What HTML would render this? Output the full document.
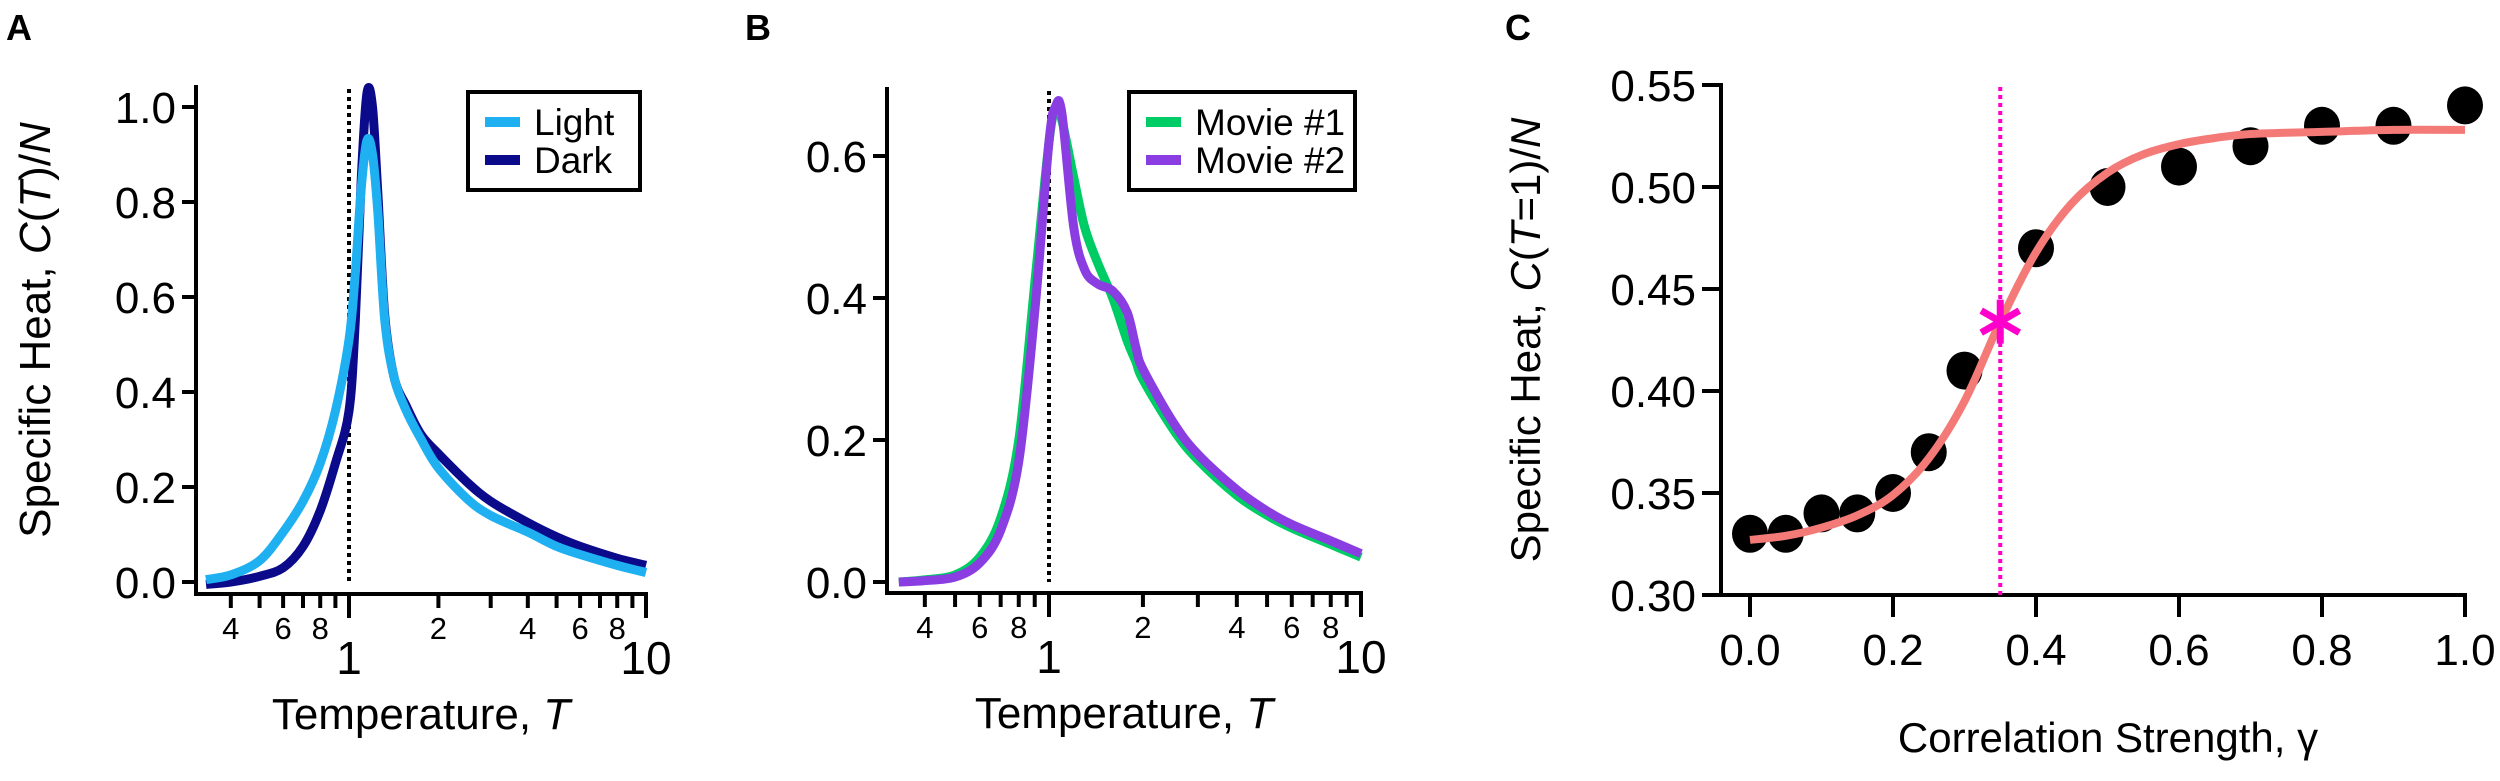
<!DOCTYPE html>
<html><head><meta charset="utf-8"><style>
html,body{margin:0;padding:0;background:#fff;}
svg{display:block;font-family:"Liberation Sans",Arial,sans-serif;}
</style></head><body>
<svg id="fig" width="2500" height="781" viewBox="0 0 2500 781" xmlns="http://www.w3.org/2000/svg">
<text x="6" y="40" font-size="36" font-weight="bold">A</text>
<text x="745" y="40" font-size="36" font-weight="bold">B</text>
<text x="1505" y="40" font-size="36" font-weight="bold">C</text>
<g id="pa"></g>
<g id="pb"></g>
<g id="pc"></g>
</svg>
<script>
// Panel A data
const aT = [0.33,0.4,0.5,0.6,0.7,0.8,0.9,1.0,1.05,1.1,1.15,1.2,1.25,1.32,1.42,1.56,1.75,2,2.5,3,4,5,6,8,10];
const aLight = [0.005,0.015,0.045,0.105,0.17,0.25,0.36,0.51,0.65,0.83,0.93,0.9,0.78,0.55,0.43,0.36,0.3,0.24,0.175,0.14,0.105,0.075,0.058,0.035,0.02];
const aDark = [-0.005,0.0,0.012,0.03,0.075,0.15,0.25,0.36,0.55,0.85,1.03,1.0,0.82,0.56,0.43,0.37,0.31,0.27,0.21,0.17,0.125,0.095,0.075,0.05,0.035];
// Panel B data
const bT = [0.33,0.4,0.5,0.6,0.7,0.8,0.9,1.0,1.05,1.1,1.2,1.3,1.43,1.6,1.78,1.9,2,2.5,3,4,5,6,8,10];
const bMovie1 = [0.0,0.003,0.01,0.035,0.09,0.2,0.42,0.62,0.665,0.65,0.57,0.5,0.45,0.4,0.34,0.31,0.285,0.215,0.172,0.122,0.094,0.076,0.053,0.035];
const bMovie2 = [0.0,0.002,0.007,0.027,0.073,0.17,0.38,0.62,0.67,0.66,0.5,0.44,0.42,0.41,0.38,0.33,0.3,0.225,0.18,0.13,0.1,0.081,0.058,0.04];
// Panel C data
const cGamma = [0,0.05,0.1,0.15,0.2,0.25,0.3,0.4,0.5,0.6,0.7,0.8,0.9,1.0];
const cHeat = [0.33,0.33,0.34,0.34,0.35,0.37,0.41,0.47,0.50,0.51,0.52,0.53,0.53,0.54];
const fitGamma = [0,0.05,0.1,0.15,0.2,0.25,0.3,0.35,0.4,0.45,0.5,0.55,0.6,0.65,0.7,0.8,0.9,1.0];
const fitHeat = [0.327,0.329,0.333,0.339,0.349,0.367,0.395,0.434,0.468,0.492,0.507,0.516,0.521,0.524,0.526,0.527,0.528,0.528];
const cStar = [0.35,0.434];
const aYTicks = ["0.0","0.2","0.4","0.6","0.8","1.0"];
const bYTicks = ["0.0","0.2","0.4","0.6"];
const cYTicks = ["0.30","0.35","0.40","0.45","0.50","0.55"];
const cXTicks = ["0.0","0.2","0.4","0.6","0.8","1.0"];

const NS="http://www.w3.org/2000/svg";
function el(parent,tag,attrs,text){const e=document.createElementNS(NS,tag);for(const k in attrs)e.setAttribute(k,attrs[k]);if(text!==undefined)e.textContent=text;parent.appendChild(e);return e;}
function smoothPath(pts){let d="M"+pts[0][0].toFixed(1)+","+pts[0][1].toFixed(1);for(let i=0;i<pts.length-1;i++){const p0=pts[i-1]||pts[i],p1=pts[i],p2=pts[i+1],p3=pts[i+2]||p2;const c1=[p1[0]+(p2[0]-p0[0])/6,p1[1]+(p2[1]-p0[1])/6],c2=[p2[0]-(p3[0]-p1[0])/6,p2[1]-(p3[1]-p1[1])/6];d+=" C"+c1[0].toFixed(1)+","+c1[1].toFixed(1)+" "+c2[0].toFixed(1)+","+c2[1].toFixed(1)+" "+p2[0].toFixed(1)+","+p2[1].toFixed(1);}return d;}

function logPanel(g,cfg){
  const X=t=>cfg.x1+Math.log10(t)*cfg.dec;
  const Y=v=>cfg.y0-v*cfg.unit;
  let e;
  e=el(g,"line",{x1:cfg.ax,y1:cfg.top,x2:cfg.ax,y2:cfg.axY+2,stroke:"#000","stroke-width":4});
  
  
  e=el(g,"line",{x1:cfg.ax-2,y1:cfg.axY,x2:X(10)+2,y2:cfg.axY,stroke:"#000","stroke-width":4});
  
  
  cfg.yt.forEach(s=>{const v=parseFloat(s),y=Y(v);
    e=el(g,"line",{x1:cfg.ax-14,y1:y,x2:cfg.ax,y2:y,stroke:"#000","stroke-width":4});
    
    
    e=el(g,"text",{x:cfg.ax-20,y:y+16,"font-size":44,"text-anchor":"end"},s);
    
    });
  for(let t=0.4;t<=10.001;){const major=Math.abs(t-1)<1e-6||Math.abs(t-10)<1e-6;const x=X(t);
    e=el(g,"line",{x1:x,y1:cfg.axY,x2:x,y2:cfg.axY+(major?24:14),stroke:"#000","stroke-width":4});
    
    
    const lab=Math.round(t<1?t*10:t);
    if(major){e=el(g,"text",{x:x,y:cfg.axY+80,"font-size":46,"text-anchor":"middle"},String(lab));}
    else if([2,4,6,8].includes(lab)){e=el(g,"text",{x:x,y:cfg.axY+45,"font-size":31,"text-anchor":"middle"},String(lab));}
    else e=null;
    if(e){
    }
    t=t<1?Math.round((t+0.1)*10)/10:Math.round(t+1);}
  e=el(g,"line",{x1:X(1),y1:cfg.top+4,x2:X(1),y2:cfg.y0,stroke:"#000","stroke-width":4,"stroke-dasharray":"4,4"});
  
  
  cfg.drawOrder.forEach(k=>{const s=cfg.series[k];const pts=cfg.T.map((t,i)=>[X(t),Y(s.v[i])]);
    e=el(g,"path",{d:smoothPath(pts),fill:"none",stroke:s.c,"stroke-width":9,"stroke-linejoin":"round","stroke-linecap":"butt"});
    
    });
  e=el(g,"text",{x:(cfg.ax+X(10))/2,y:cfg.axY+135,"font-size":44,"text-anchor":"middle"});
  
  
  e.innerHTML='Temperature, <tspan font-style="italic">T</tspan>';
  const lg=el(g,"g",{});
  
  
  el(lg,"rect",{x:cfg.lg[0],y:cfg.lg[1],width:cfg.lg[2],height:cfg.lg[3],fill:"#fff",stroke:"#000","stroke-width":4});
  cfg.series.forEach((s,i)=>{const y=cfg.lg[1]+30+i*38;
    e=el(lg,"line",{x1:cfg.lg[0]+17,y1:y,x2:cfg.lg[0]+52,y2:y,stroke:s.c,"stroke-width":10});
    
    
    e=el(lg,"text",{x:cfg.lg[0]+66,y:y+13,"font-size":37},s.label);
    
    });
  return {X,Y};
}
logPanel(document.getElementById("pa"),{ax:196,x1:349,dec:297,y0:582,unit:475,axY:594,top:85,T:aT,yt:aYTicks,drawOrder:[1,0],
  series:[{v:aLight,c:"#1eb0f0",label:"Light",name:"light-curve"},{v:aDark,c:"#0a0a8a",label:"Dark",name:"dark-curve"}],lg:[468,92,172,98]});
logPanel(document.getElementById("pb"),{ax:887,x1:1049,dec:312,y0:582,unit:710,axY:593,top:87,T:bT,yt:bYTicks,drawOrder:[0,1],
  series:[{v:bMovie1,c:"#00cc66",label:"Movie #1",name:"movie1-curve"},{v:bMovie2,c:"#8a3ee2",label:"Movie #2",name:"movie2-curve"}],lg:[1129,92,226,98]});
(function(){const t=el(document.getElementById("pa"),"text",{x:0,y:0,"font-size":44,"text-anchor":"middle",transform:"translate(50,330) rotate(-90)"});


t.innerHTML='Specific Heat,  <tspan font-style="italic">C</tspan>(<tspan font-style="italic">T</tspan>)/<tspan font-style="italic">N</tspan>';})();

(function(){const g=document.getElementById("pc");
  const X=v=>1750+v*715, Y=v=>595-(v-0.30)/0.05*102;
  let e;
  e=el(g,"line",{x1:1721,y1:83,x2:1721,y2:597,stroke:"#000","stroke-width":4});
  
  
  e=el(g,"line",{x1:1719,y1:595,x2:X(1)+2,y2:595,stroke:"#000","stroke-width":4});
  
  
  cYTicks.forEach(s=>{const y=Y(parseFloat(s));
    e=el(g,"line",{x1:1702,y1:y,x2:1721,y2:y,stroke:"#000","stroke-width":4});
    
    
    e=el(g,"text",{x:1696,y:y+16,"font-size":44,"text-anchor":"end"},s);
    
    });
  cXTicks.forEach(s=>{const x=X(parseFloat(s));
    e=el(g,"line",{x1:x,y1:595,x2:x,y2:617,stroke:"#000","stroke-width":4});
    
    
    e=el(g,"text",{x:x,y:665,"font-size":44,"text-anchor":"middle"},s);
    
    });
  e=el(g,"line",{x1:X(cStar[0]),y1:Y(0.55)+2,x2:X(cStar[0]),y2:595,stroke:"#ff00cc","stroke-width":4,"stroke-dasharray":"4,4"});
  
  
  cGamma.forEach((x,i)=>{e=el(g,"ellipse",{cx:X(x),cy:Y(cHeat[i]),rx:18,ry:19,fill:"#000"});
    
    });
  e=el(g,"path",{d:smoothPath(fitGamma.map((x,i)=>[X(x),Y(fitHeat[i])])),fill:"none",stroke:"#f47a78","stroke-width":8,"stroke-linecap":"butt"});
  
  
  const sx=X(cStar[0]),sy=Y(cStar[1]);
  const sg=el(g,"g",{stroke:"#ff00cc","stroke-width":7});
  
  
  [0,60,120].forEach(a=>{const r=a*Math.PI/180;el(sg,"line",{x1:sx-22*Math.sin(r),y1:sy-22*Math.cos(r),x2:sx+22*Math.sin(r),y2:sy+22*Math.cos(r)});});
  e=el(g,"text",{x:2108,y:752,"font-size":42,"text-anchor":"middle"},"Correlation Strength, γ");
  
  
  const t=el(g,"text",{x:0,y:0,"font-size":42,"text-anchor":"middle",transform:"translate(1540,340) rotate(-90)"});
  
  
  t.innerHTML='Specific Heat,  <tspan font-style="italic">C</tspan>(<tspan font-style="italic">T</tspan>=1)/<tspan font-style="italic">N</tspan>';
})();
</script>
</body></html>
